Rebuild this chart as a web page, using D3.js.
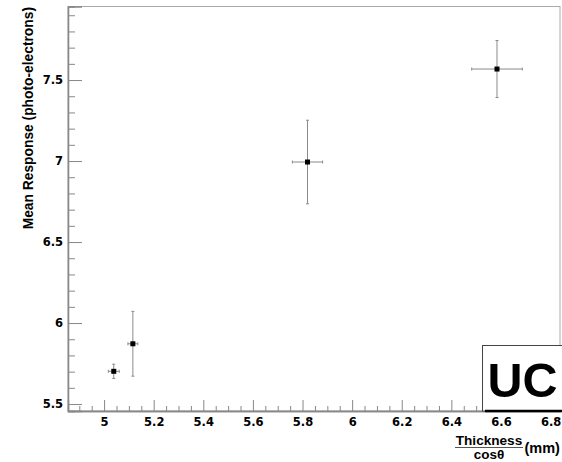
<!DOCTYPE html>
<html>
<head>
<meta charset="utf-8">
<script src="https://cdn.jsdelivr.net/npm/d3@7"></script>
<style>
  html, body { margin: 0; padding: 0; background: #fff; }
  svg { display: block; }
  text { font-family: "Liberation Sans", Arial, sans-serif; font-weight: bold; fill: #000; }
</style>
</head>
<body>
<svg id="chart" width="562" height="462"></svg>
<script>
// ---- data ----
const thickness = [5.039, 5.116, 5.820, 6.584];      // x: Thickness / cos(theta) (mm)
const response  = [5.702, 5.872, 6.994, 7.568];      // y: mean response (photo-electrons)
const thicknessErr = [0.022, 0.020, 0.061, 0.102];
const responseErr  = [0.044, 0.200, 0.258, 0.176];
const xMajorTicks = [5.0, 5.2, 5.4, 5.6, 5.8, 6.0, 6.2, 6.4, 6.6, 6.8];
const xMajorLabels = ["5", "5.2", "5.4", "5.6", "5.8", "6", "6.2", "6.4", "6.6", "6.8"];
const yMajorTicks = [5.5, 6.0, 6.5, 7.0, 7.5];
const yMajorLabels = ["5.5", "6", "6.5", "7", "7.5"];
const xDomain = [4.8545, 6.838];
const yDomain = [5.457, 7.954];
const yTitle = "Mean Response (photo-electrons)";
const xTitleNum = "Thickness";
const xTitleDen = "cos\u03B8";
const xTitleUnit = "(mm)";
const logoText = "UC";

(function () {
// ---- layout ----
const mLeft = 68, mRight = 560, mTop = 6.5, mBottom = 411;
const svg = d3.select("#chart");

const x = d3.scaleLinear().domain(xDomain).range([mLeft, mRight]);
const y = d3.scaleLinear().domain(yDomain).range([mBottom, mTop]);

const axisColor = "#888";

// frame
svg.append("rect")
  .attr("x", mLeft).attr("y", mTop)
  .attr("width", mRight - mLeft).attr("height", mBottom - mTop)
  .attr("fill", "none").attr("stroke", "#aaa").attr("stroke-width", 1);

// minor ticks
const xMinor = d3.range(0, 40).map(i => +(4.85 + i * 0.05).toFixed(2))
  .filter(v => v >= xDomain[0] && v <= xDomain[1] && !xMajorTicks.some(m => Math.abs(m - v) < 1e-6));
const yMinor = d3.range(0, 30).map(i => +(5.4 + i * 0.1).toFixed(1))
  .filter(v => v >= yDomain[0] && v <= yDomain[1] && !yMajorTicks.some(m => Math.abs(m - v) < 1e-6));

const gxMinor = svg.append("g").attr("transform", `translate(0,${mBottom})`)
  .call(d3.axisBottom(x).tickValues(xMinor).tickSize(-5).tickFormat(""));
const gyMinor = svg.append("g").attr("transform", `translate(${mLeft},0)`)
  .call(d3.axisLeft(y).tickValues(yMinor).tickSize(-7).tickFormat(""));

// major axes
const gx = svg.append("g").attr("transform", `translate(0,${mBottom})`)
  .call(d3.axisBottom(x).tickValues(xMajorTicks).tickSize(-11).tickPadding(7)
    .tickFormat((d, i) => xMajorLabels[i]));
const gy = svg.append("g").attr("transform", `translate(${mLeft},0)`)
  .call(d3.axisLeft(y).tickValues(yMajorTicks).tickSize(-14).tickPadding(5)
    .tickFormat((d, i) => yMajorLabels[i]));

[gxMinor, gyMinor, gx, gy].forEach(g => {
  g.select(".domain").attr("stroke", axisColor).attr("stroke-width", 1.3);
  g.selectAll(".tick line").attr("stroke", axisColor).attr("stroke-width", 1);
  g.selectAll("text")
    .style("font-family", "'DejaVu Sans', sans-serif")
    .style("font-weight", "bold").style("font-size", "11.5px").attr("fill", "#000");
});

// error bars + markers
const pts = thickness.map((t, i) => ({ x: t, y: response[i], ex: thicknessErr[i], ey: responseErr[i] }));
const eb = svg.append("g").attr("stroke", "#8a8a8a").attr("stroke-width", 1);
const cap = 1.5;
pts.forEach(p => {
  const cx = x(p.x), cy = y(p.y);
  const x0 = x(p.x - p.ex), x1 = x(p.x + p.ex);
  const y0 = y(p.y - p.ey), y1 = y(p.y + p.ey);
  eb.append("line").attr("x1", x0).attr("x2", x1).attr("y1", cy).attr("y2", cy);
  eb.append("line").attr("x1", cx).attr("x2", cx).attr("y1", y0).attr("y2", y1);
  eb.append("line").attr("x1", x0).attr("x2", x0).attr("y1", cy - cap).attr("y2", cy + cap);
  eb.append("line").attr("x1", x1).attr("x2", x1).attr("y1", cy - cap).attr("y2", cy + cap);
  eb.append("line").attr("x1", cx - cap).attr("x2", cx + cap).attr("y1", y0).attr("y2", y0);
  eb.append("line").attr("x1", cx - cap).attr("x2", cx + cap).attr("y1", y1).attr("y2", y1);
});
svg.append("g").selectAll("rect").data(pts).join("rect")
  .attr("x", d => x(d.x) - 2.5).attr("y", d => y(d.y) - 2.5)
  .attr("width", 5).attr("height", 5).attr("fill", "#000");

// y title
svg.append("text")
  .attr("transform", `translate(32.5,7) rotate(-90)`)
  .attr("text-anchor", "end")
  .style("font-size", "13.8px")
  .text(yTitle);

// x title (fraction)
const fracCx = 489;
svg.append("text").attr("x", fracCx).attr("y", 444.7).attr("text-anchor", "middle")
  .style("font-size", "13.6px").text(xTitleNum);
svg.append("line").attr("x1", 455).attr("x2", 523).attr("y1", 447.5).attr("y2", 447.5)
  .attr("stroke", "#555").attr("stroke-width", 1.2);
svg.append("text").attr("x", fracCx).attr("y", 458.5).attr("text-anchor", "middle")
  .style("font-size", "13.5px").text(xTitleDen);
svg.append("text").attr("x", 524.5).attr("y", 453).attr("text-anchor", "start")
  .style("font-size", "14.5px").text(xTitleUnit);

// UC logo box
svg.append("rect").attr("x", 482.5).attr("y", 345.5).attr("width", 100).attr("height", 65.5)
  .attr("fill", "#fff").attr("stroke", "#444").attr("stroke-width", 1);
svg.append("line").attr("x1", 485).attr("x2", 562).attr("y1", 411).attr("y2", 411)
  .attr("stroke", "#000").attr("stroke-width", 2.5);
svg.append("text").attr("x", 487.5).attr("y", 397)
  .style("font-size", "48.5px").text(logoText);
})();
</script>
</body>
</html>
